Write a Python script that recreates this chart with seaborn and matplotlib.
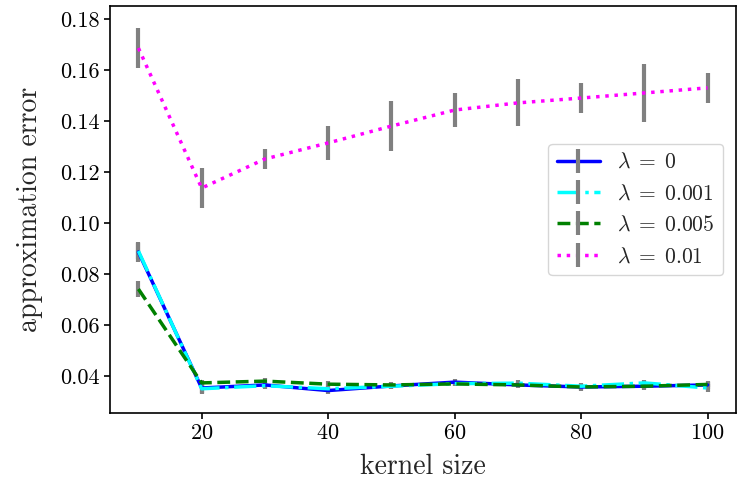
import numpy as np
import pandas as pd
import seaborn as sns
import matplotlib.pyplot as plt
from matplotlib.lines import Line2D

# data
kernel_size = [10, 20, 30, 40, 50, 60, 70, 80, 90, 100]
lambdas = ["0", "0.001", "0.005", "0.01"]

err_l0 = [0.0886, 0.0353, 0.0365, 0.0343, 0.0361, 0.0376, 0.0365, 0.0357, 0.0360, 0.0365]
err_l0001 = [0.0890, 0.0350, 0.0362, 0.0350, 0.0360, 0.0370, 0.0372, 0.0360, 0.0373, 0.0353]
err_l0005 = [0.0741, 0.0373, 0.0380, 0.0368, 0.0365, 0.0369, 0.0365, 0.0357, 0.0360, 0.0367]
err_l001 = [0.1686, 0.1137, 0.1251, 0.1314, 0.1380, 0.1443, 0.1471, 0.1490, 0.1510, 0.1530]

std_l0 = [0.0040, 0.0025, 0.0012, 0.0015, 0.0012, 0.0012, 0.0012, 0.0015, 0.0015, 0.0015]
std_l0001 = [0.0030, 0.0015, 0.0012, 0.0012, 0.0010, 0.0010, 0.0012, 0.0010, 0.0012, 0.0015]
std_l0005 = [0.0030, 0.0012, 0.0012, 0.0012, 0.0010, 0.0010, 0.0010, 0.0010, 0.0010, 0.0010]
std_l001 = [0.0080, 0.0080, 0.0040, 0.0067, 0.0097, 0.0065, 0.0092, 0.0060, 0.0112, 0.0060]

means = [err_l0, err_l0001, err_l0005, err_l001]
stds = [std_l0, std_l0001, std_l0005, std_l001]
colors = ["blue", "cyan", "green", "magenta"]
styles = ["-", "-.", "--", ":"]

# long table for seaborn
rows = []
for lam, m in zip(lambdas, means):
    for k, v in zip(kernel_size, m):
        rows.append([k, v, lam])
df = pd.DataFrame(rows, columns=["kernel", "error", "lam"])

sns.set_style("ticks")
plt.rcParams["font.family"] = ["cmr10"]
plt.rcParams["mathtext.fontset"] = "cm"
plt.rcParams["axes.formatter.use_mathtext"] = True

fig = plt.figure(figsize=(7.41, 4.79), dpi=100)
ax = fig.add_axes([0.1484, 0.1378, 0.8449, 0.8497])

# error bars (gray, no caps)
for m, s in zip(means, stds):
    ax.errorbar(kernel_size, m, yerr=s, fmt="none", ecolor="gray",
                elinewidth=3, capsize=0, zorder=1.5)

# lines
for lam, c, ls in zip(lambdas, colors, styles):
    sub = df[df["lam"] == lam]
    sns.lineplot(data=sub, x="kernel", y="error", color=c, linestyle=ls,
                 linewidth=2.5, ax=ax, legend=False, zorder=2)

for sp in ax.spines.values():
    sp.set_color("black")
    sp.set_linewidth(1.2)

ax.set_xticks([20, 40, 60, 80, 100])
ax.set_yticks([0.04, 0.06, 0.08, 0.10, 0.12, 0.14, 0.16, 0.18])
ax.set_yticklabels(["0.04", "0.06", "0.08", "0.10", "0.12", "0.14", "0.16", "0.18"])
ax.tick_params(labelsize=16, length=4, width=1.2, colors="black")
ax.set_xlim(5.5, 104.5)
ax.set_ylim(0.0255, 0.1851)

ax.set_xlabel("kernel size", fontsize=20, labelpad=8)
ax.set_ylabel("approximation error", fontsize=20, labelpad=12)

# legend with gray bar through each line sample
handles = []
for c, ls in zip(colors, styles):
    ln = Line2D([], [], color=c, linestyle=ls, linewidth=2.5)
    bar = Line2D([], [], color="gray", marker="|", markersize=17,
                 markeredgewidth=3, linestyle="none")
    handles.append((ln, bar))
labels = [r"$\lambda\;=\;%s$" % l for l in lambdas]
ax.legend(handles, labels, loc="center right", fontsize=15.5, numpoints=1,
          labelspacing=0.55, borderaxespad=0.6)

fig.savefig("out.png", dpi=100)
